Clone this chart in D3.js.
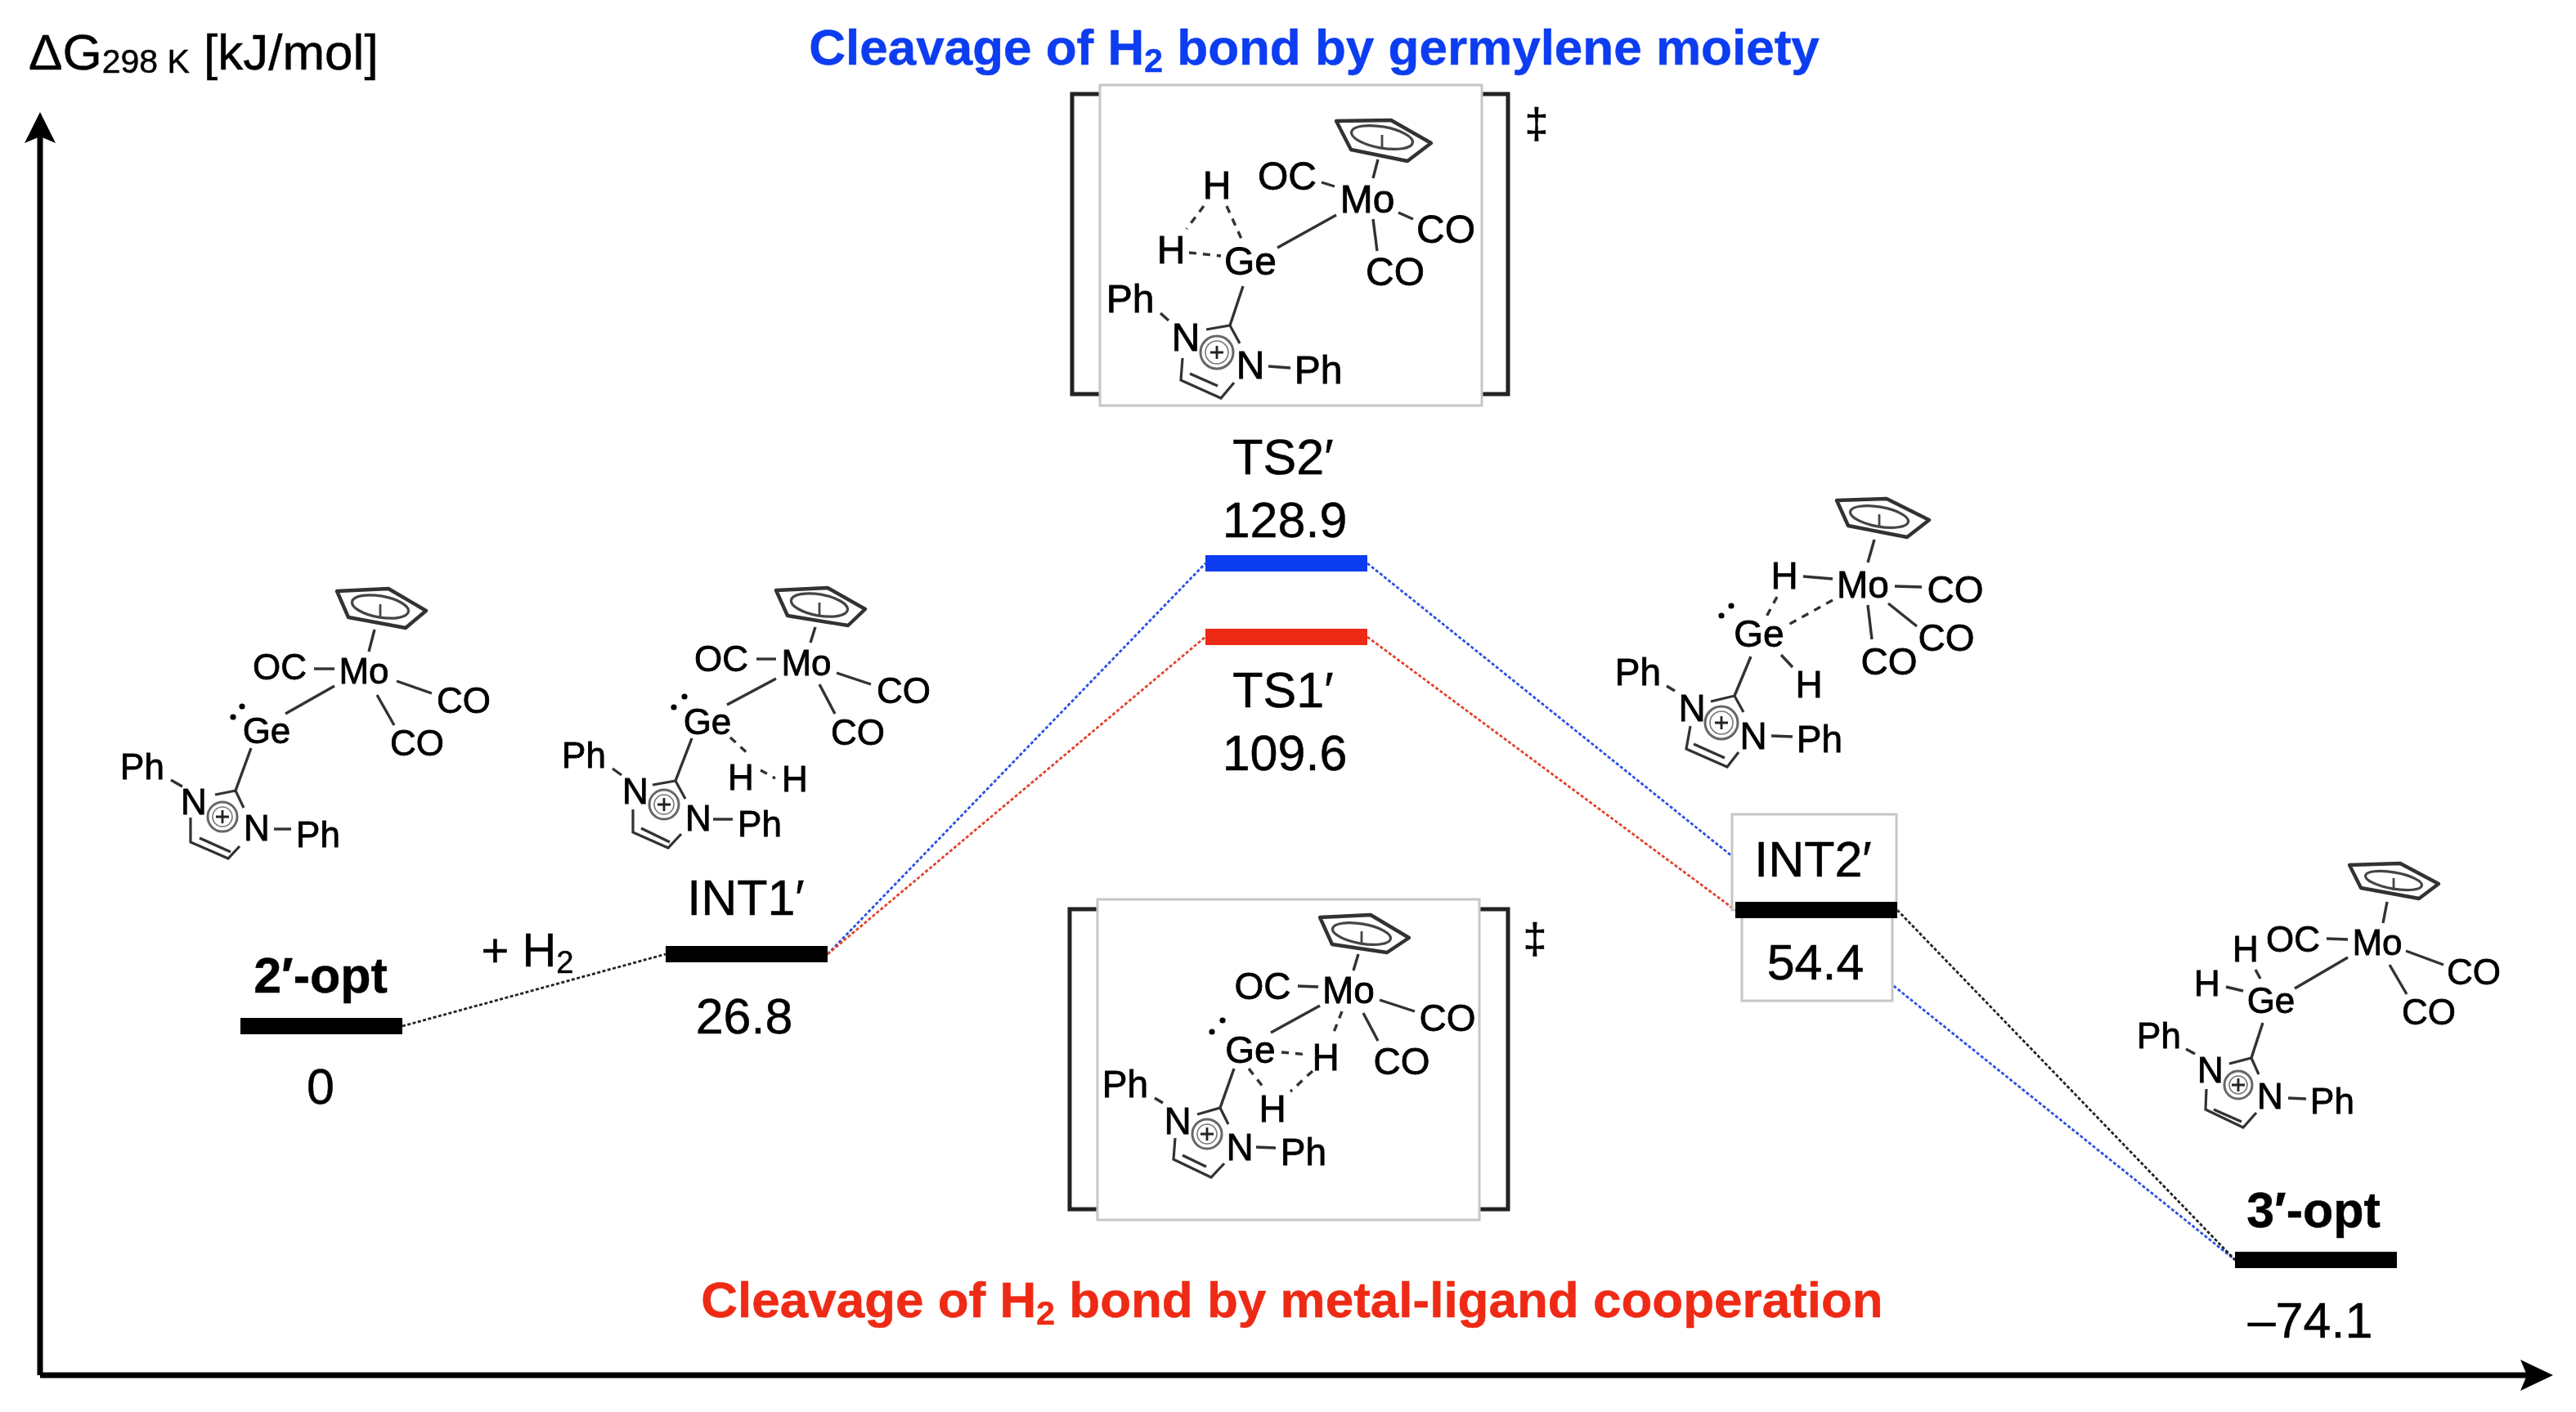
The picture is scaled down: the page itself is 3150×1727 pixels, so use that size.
<!DOCTYPE html>
<html>
<head>
<meta charset="utf-8">
<title>Free energy profile</title>
<script src="https://cdnjs.cloudflare.com/ajax/libs/d3/7.8.5/d3.min.js"></script>
<style>
  html, body { margin: 0; padding: 0; background: #fff; }
  svg { display: block; }
  text { font-family: "Liberation Sans", Arial, sans-serif; fill: #000; stroke: #000; stroke-width: 0.5px; }
</style>
</head>
<body>
<script>
// ---- data ----
var stages = ["2′-opt", "INT1′", "TS1′", "TS2′", "INT2′", "3′-opt"];
var energies = [0, 26.8, 109.6, 128.9, 54.4, -74.1];
var energyLabels = ["0", "26.8", "109.6", "128.9", "54.4", "–74.1"];
var stageKinds = ["black", "black", "red", "blue", "black", "black"];
var boldStages = ["2′-opt", "3′-opt"];
var pathFrom = ["2′-opt", "INT1′", "INT1′", "TS1′", "TS2′", "INT2′"];
var pathTo = ["INT1′", "TS2′", "TS1′", "INT2′", "3′-opt", "3′-opt"];
var pathKinds = ["black", "blue", "red", "red", "blue", "black"];

var W = 3150, H = 1727;
var barW = 198;
var colors = { black: "#000", blue: "#0a3cf0", red: "#ee2a12" };
var lineColors = { black: "#222", blue: "#2a50e4", red: "#e2432c" };

// the diagram is not to scale, so the energy axis is piecewise
var yDomain = energies.slice().sort(d3.ascending);
var y = d3.scaleLinear().domain(yDomain).range([1541, 1255, 1167, 1113, 779, 689]);
var x = d3.scaleOrdinal().domain(stages).range([393, 913, 1573, 1573, 2221, 2832]);
var energyOf = d3.scaleOrdinal().domain(stages).range(energies);

var svg = d3.select("body").append("svg")
  .attr("width", W)
  .attr("height", H)
  .attr("viewBox", "0 0 " + W + " " + H);

svg.append("defs").append("filter")
    .attr("id", "soft")
    .attr("x", 0).attr("y", 0).attr("width", 1).attr("height", 1)
    .attr("filterUnits", "objectBoundingBox")
  .append("feGaussianBlur")
    .attr("stdDeviation", 0.7);

svg.append("rect").attr("width", W).attr("height", H).attr("fill", "#fff");
var root = svg.append("g").attr("filter", "url(#soft)");
root.append("rect").attr("width", W).attr("height", H).attr("fill", "#fff");

// axes
root.append("path")
  .attr("d", "M49,1682 V165 M49,1682 H3095")
  .attr("fill", "none").attr("stroke", "#000").attr("stroke-width", 7);
root.append("path").attr("d", "M49,137 L68,175 L49,167 L30,175 Z").attr("fill", "#000");
root.append("path").attr("d", "M3122,1682 L3082,1663 L3090,1682 L3082,1701 Z").attr("fill", "#000");

var axisTitle = root.append("text").attr("x", 35).attr("y", 85).attr("font-size", 62);
axisTitle.append("tspan").text("ΔG");
axisTitle.append("tspan").attr("font-size", 41).attr("dy", 4).text("298 K");
axisTitle.append("tspan").attr("dy", -4).text(" [kJ/mol]");

// connecting lines
var links = pathFrom.map(function(d, i) { return { from: d, to: pathTo[i], kind: pathKinds[i] }; });
root.selectAll(".link")
    .data(links)
  .enter().append("line")
    .attr("class", "link")
    .attr("x1", function(d) { return x(d.from) + barW / 2; })
    .attr("y1", function(d) { return y(energyOf(d.from)); })
    .attr("x2", function(d) { return x(d.to) - barW / 2; })
    .attr("y2", function(d) { return y(energyOf(d.to)); })
    .attr("stroke", function(d) { return lineColors[d.kind]; })
    .attr("stroke-width", 2.8)
    .attr("stroke-dasharray", "4 2.5");

// boxes that sit over the lines
function grayBox(bx, by, bw, bh) {
  root.append("rect")
    .attr("x", bx).attr("y", by).attr("width", bw).attr("height", bh)
    .attr("fill", "#fff").attr("stroke", "#c6c6c6").attr("stroke-width", 3);
}
grayBox(2118, 996, 201, 117);
grayBox(2130, 1113, 184, 111);

// energy levels
root.selectAll(".level")
    .data(stages)
  .enter().append("rect")
    .attr("class", "level")
    .attr("x", function(d) { return x(d) - barW / 2; })
    .attr("y", function(d) { return y(energyOf(d)) - 10; })
    .attr("width", barW)
    .attr("height", 20)
    .attr("fill", function(d, i) { return colors[stageKinds[i]]; });

// stage names and values
var nameX = { "2′-opt": 392, "INT1′": 912, "TS1′": 1569, "TS2′": 1569, "INT2′": 2217, "3′-opt": 2829 };
var nameY = { "2′-opt": 1192, "INT1′": 1097, "TS1′": 843, "TS2′": 558, "INT2′": 1050, "3′-opt": 1479 };
var valX = { "2′-opt": 392, "INT1′": 910, "TS1′": 1571, "TS2′": 1571, "INT2′": 2220, "3′-opt": 2825 };
var valY = { "2′-opt": 1328, "INT1′": 1242, "TS1′": 920, "TS2′": 635, "INT2′": 1176, "3′-opt": 1614 };

root.selectAll(".name")
    .data(stages)
  .enter().append("text")
    .attr("class", "name")
    .attr("x", function(d) { return nameX[d]; })
    .attr("y", function(d) { return nameY[d]; })
    .attr("dy", "0.36em")
    .attr("text-anchor", "middle")
    .attr("font-size", 61)
    .attr("font-weight", function(d) { return boldStages.indexOf(d) >= 0 ? "bold" : "normal"; })
    .text(function(d) { return d; });

root.selectAll(".value")
    .data(stages)
  .enter().append("text")
    .attr("class", "value")
    .attr("x", function(d) { return valX[d]; })
    .attr("y", function(d) { return valY[d]; })
    .attr("dy", "0.36em")
    .attr("text-anchor", "middle")
    .attr("font-size", 61)
    .text(function(d, i) { return energyLabels[i]; });

// text with a subscript 2
function withSub(tx, ty, size, color, bold, before, after) {
  var t = root.append("text")
    .attr("x", tx).attr("y", ty).attr("dy", "0.36em")
    .attr("text-anchor", "middle")
    .attr("font-size", size)
    .attr("font-weight", bold ? "bold" : "normal")
    .style("fill", color)
    .style("stroke", color);
  t.append("tspan").text(before);
  t.append("tspan").attr("font-size", size * 0.66).attr("dy", size * 0.14).text("2");
  t.append("tspan").attr("dy", -size * 0.14).text(after);
}
withSub(1607, 57, 62, colors.blue, true, "Cleavage of H", " bond by germylene moiety");
withSub(1580, 1589, 62, colors.red, true, "Cleavage of H", " bond by metal-ligand cooperation");
withSub(645, 1161, 58, "#000", false, "+ H", "");

// brackets and boxes of the two transition states
function tsFrame(left, right, top, bottom, bx, by, bw, bh, mark) {
  root.append("path")
    .attr("d", "M" + (bx + 20) + "," + top + " H" + left + " V" + bottom + " H" + (bx + 20) +
               " M" + (bx + bw - 20) + "," + top + " H" + right + " V" + bottom + " H" + (bx + bw - 20))
    .attr("fill", "none").attr("stroke", "#222").attr("stroke-width", 5);
  grayBox(bx, by, bw, bh);
  root.append("text")
    .attr("x", mark[0]).attr("y", mark[1]).attr("dy", "0.36em")
    .attr("text-anchor", "middle").attr("font-size", 52).text("‡");
}
tsFrame(1311, 1844, 115, 482, 1345, 104, 467, 392, [1879, 150]);
tsFrame(1308, 1844, 1112, 1479, 1342, 1100, 467, 392, [1877, 1147]);

// ---- molecule sketches ----
function molecule(m) {
  var g = root.append("g");
  g.selectAll(".bond")
      .data(m.bonds)
    .enter().append("line")
      .attr("x1", function(d) { return d[0]; }).attr("y1", function(d) { return d[1]; })
      .attr("x2", function(d) { return d[2]; }).attr("y2", function(d) { return d[3]; })
      .attr("stroke", "#333").attr("stroke-width", 3.4);
  g.selectAll(".dash")
      .data(m.dashed)
    .enter().append("line")
      .attr("x1", function(d) { return d[0]; }).attr("y1", function(d) { return d[1]; })
      .attr("x2", function(d) { return d[2]; }).attr("y2", function(d) { return d[3]; })
      .attr("stroke", "#333").attr("stroke-width", 3.4).attr("stroke-dasharray", "9 8");
  // imidazolium outline
  g.append("path")
    .attr("d", d3.line()(m.ring.slice(0, 3)) + " " + d3.line()(m.ring.slice(3, 7)) + " " + d3.line()(m.ring.slice(7)))
    .attr("fill", "none").attr("stroke", "#333").attr("stroke-width", 3.2);
  g.append("circle").attr("cx", m.plus[0]).attr("cy", m.plus[1]).attr("r", m.plus[2])
    .attr("fill", "none").attr("stroke", "#666").attr("stroke-width", 3);
  g.append("circle").attr("cx", m.plus[0]).attr("cy", m.plus[1]).attr("r", m.plus[2] - 6)
    .attr("fill", "none").attr("stroke", "#777").attr("stroke-width", 1.6);
  g.append("path")
    .attr("d", "M" + (m.plus[0] - 8) + "," + m.plus[1] + " h16 M" + m.plus[0] + "," + (m.plus[1] - 8) + " v16")
    .attr("stroke", "#222").attr("stroke-width", 2.8);
  // cyclopentadienyl ring
  g.append("path")
    .attr("d", d3.line().curve(d3.curveLinearClosed)(m.cp))
    .attr("fill", "none").attr("stroke", "#333").attr("stroke-width", 4.4).attr("stroke-linejoin", "round");
  g.append("ellipse")
    .attr("rx", m.cpInner[2]).attr("ry", m.cpInner[3])
    .attr("transform", "translate(" + m.cpInner[0] + "," + m.cpInner[1] + ") rotate(10)")
    .attr("fill", "none").attr("stroke", "#444").attr("stroke-width", 3.2);
  g.append("line")
    .attr("x1", m.cpInner[0]).attr("y1", m.cpInner[1] - 3)
    .attr("x2", m.cpInner[0]).attr("y2", m.cpInner[1] + 12)
    .attr("stroke", "#444").attr("stroke-width", 2.8);
  g.selectAll(".dot")
      .data(m.lone)
    .enter().append("circle")
      .attr("cx", function(d) { return d[0]; }).attr("cy", function(d) { return d[1]; })
      .attr("r", 3.6).attr("fill", "#000");
  g.selectAll(".atom")
      .data(m.atoms)
    .enter().append("text")
      .attr("x", function(d) { return d[1]; }).attr("y", function(d) { return d[2]; })
      .attr("dy", "0.36em")
      .attr("text-anchor", "middle")
      .attr("font-size", m.size)
      .style("stroke-width", "0.8px")
      .text(function(d) { return d[0]; });
}

// 2′-opt
molecule({
  size: 44,
  atoms: [["Mo", 445, 820], ["OC", 342, 815], ["CO", 567, 856], ["CO", 510, 908], ["Ge", 326, 893],
          ["Ph", 174, 937], ["N", 237, 980], ["N", 314, 1012], ["Ph", 389, 1020]],
  bonds: [[458, 770, 451, 797], [384, 818, 409, 818], [485, 833, 528, 848], [461, 850, 482, 887],
          [409, 839, 349, 873], [307, 915, 288, 967], [209, 954, 223, 962], [335, 1014, 356, 1014],
          [244, 1025, 282, 1042]],
  dashed: [],
  ring: [[263, 972], [288, 967], [298, 988], [233, 1000], [233, 1030], [279, 1050], [293, 1035]],
  plus: [272, 999, 18],
  cp: [[412, 723], [475, 720], [521, 747], [496, 768], [426, 755]],
  cpInner: [465, 742, 35, 13],
  lone: [[296, 864], [285, 877]]
});

// INT1′
molecule({
  size: 44,
  atoms: [["Mo", 986, 810], ["OC", 882, 805], ["CO", 1105, 844], ["CO", 1049, 895], ["Ge", 865, 882],
          ["Ph", 714, 923], ["N", 777, 967], ["N", 854, 1000], ["Ph", 929, 1007], ["H", 906, 950], ["H", 972, 952]],
  bonds: [[997, 767, 991, 786], [925, 806, 949, 806], [1023, 823, 1065, 837], [1002, 837, 1021, 873],
          [949, 830, 889, 862], [846, 903, 826, 955], [749, 940, 760, 948], [872, 1002, 896, 1002],
          [784, 1013, 819, 1030]],
  dashed: [[893, 902, 918, 925], [930, 942, 948, 952]],
  ring: [[798, 960], [826, 955], [838, 977], [774, 990], [774, 1018], [817, 1037], [833, 1020]],
  plus: [812, 984, 18],
  cp: [[949, 722], [1012, 719], [1058, 745], [1037, 765], [963, 753]],
  cpInner: [1002, 740, 35, 13],
  lone: [[837, 852], [824, 865]]
});

// TS2′
molecule({
  size: 48,
  atoms: [["Mo", 1672, 243], ["OC", 1574, 215], ["CO", 1768, 280], ["CO", 1706, 332], ["H", 1488, 226],
          ["H", 1432, 305], ["Ge", 1529, 319], ["Ph", 1382, 365], ["N", 1450, 412], ["N", 1529, 446], ["Ph", 1612, 452]],
  bonds: [[1685, 195, 1679, 218], [1616, 223, 1632, 228], [1710, 260, 1728, 268], [1679, 268, 1684, 307],
          [1634, 263, 1562, 303], [1520, 350, 1504, 398], [1419, 383, 1429, 392], [1551, 448, 1578, 450],
          [1455, 457, 1489, 472]],
  dashed: [[1472, 252, 1451, 280], [1500, 252, 1518, 292], [1454, 309, 1493, 313]],
  ring: [[1475, 403], [1504, 398], [1516, 420], [1446, 438], [1444, 465], [1493, 487], [1509, 468]],
  plus: [1488, 431, 20],
  cp: [[1634, 148], [1701, 147], [1750, 175], [1721, 197], [1652, 183]],
  cpInner: [1690, 168, 38, 13],
  lone: []
});

// TS1′
molecule({
  size: 46,
  atoms: [["Mo", 1649, 1210], ["OC", 1544, 1205], ["CO", 1770, 1244], ["CO", 1714, 1297], ["Ge", 1529, 1283],
          ["H", 1621, 1292], ["H", 1556, 1355], ["Ph", 1376, 1325], ["N", 1440, 1370], ["N", 1516, 1402], ["Ph", 1594, 1408]],
  bonds: [[1661, 1167, 1655, 1187], [1587, 1206, 1612, 1207], [1687, 1223, 1730, 1237], [1667, 1239, 1685, 1273],
          [1614, 1230, 1554, 1263], [1509, 1307, 1492, 1355], [1412, 1343, 1422, 1349], [1536, 1403, 1560, 1404],
          [1446, 1413, 1475, 1427]],
  dashed: [[1641, 1237, 1630, 1265], [1567, 1287, 1600, 1290], [1605, 1310, 1578, 1335], [1527, 1307, 1545, 1330]],
  ring: [[1464, 1363], [1492, 1355], [1502, 1375], [1437, 1392], [1435, 1418], [1481, 1440], [1497, 1423]],
  plus: [1476, 1387, 18],
  cp: [[1614, 1122], [1676, 1119], [1723, 1147], [1696, 1165], [1629, 1155]],
  cpInner: [1665, 1142, 36, 12],
  lone: [[1495, 1248], [1482, 1262]]
});

// INT2′
molecule({
  size: 46,
  atoms: [["Mo", 2278, 714], ["H", 2182, 703], ["CO", 2391, 720], ["CO", 2380, 779], ["CO", 2310, 808],
          ["Ge", 2151, 774], ["H", 2212, 836], ["Ph", 2003, 821], ["N", 2069, 865], ["N", 2144, 899], ["Ph", 2225, 903]],
  bonds: [[2292, 660, 2284, 688], [2205, 705, 2241, 708], [2317, 717, 2350, 718], [2309, 738, 2344, 766],
          [2284, 740, 2289, 782], [2178, 801, 2192, 816], [2141, 803, 2121, 851], [2038, 839, 2048, 845],
          [2166, 900, 2192, 901], [2071, 910, 2109, 927]],
  dashed: [[2241, 734, 2187, 764], [2173, 730, 2159, 756]],
  ring: [[2092, 858], [2121, 851], [2132, 871], [2067, 888], [2062, 916], [2112, 938], [2126, 920]],
  plus: [2105, 884, 20],
  cp: [[2246, 612], [2307, 610], [2359, 636], [2332, 657], [2260, 643]],
  cpInner: [2298, 632, 36, 12],
  lone: [[2117, 741], [2105, 753]]
});

// 3′-opt
molecule({
  size: 44,
  atoms: [["Mo", 2907, 1152], ["OC", 2804, 1148], ["H", 2746, 1160], ["H", 2699, 1202], ["CO", 3025, 1188],
          ["CO", 2970, 1237], ["Ge", 2777, 1223], ["Ph", 2640, 1266], ["N", 2703, 1308], ["N", 2776, 1340], ["Ph", 2852, 1346]],
  bonds: [[2919, 1103, 2914, 1129], [2845, 1148, 2871, 1149], [2942, 1163, 2988, 1180], [2922, 1180, 2943, 1216],
          [2871, 1171, 2806, 1209], [2758, 1186, 2764, 1197], [2722, 1207, 2743, 1212], [2767, 1251, 2753, 1294],
          [2673, 1283, 2684, 1289], [2798, 1343, 2820, 1344], [2707, 1357, 2741, 1372]],
  dashed: [],
  ring: [[2726, 1301], [2753, 1294], [2762, 1314], [2698, 1332], [2697, 1357], [2743, 1379], [2759, 1361]],
  plus: [2737, 1327, 17],
  cp: [[2873, 1058], [2935, 1056], [2982, 1081], [2958, 1099], [2887, 1086]],
  cpInner: [2927, 1077, 35, 10],
  lone: []
});
</script>
</body>
</html>
